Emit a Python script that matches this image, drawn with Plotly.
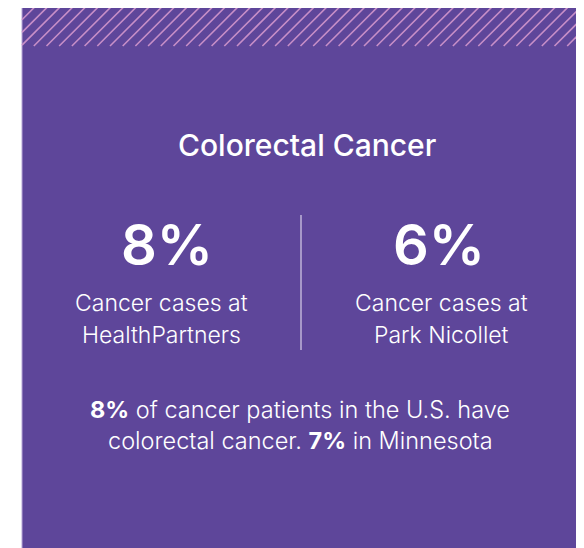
import plotly.graph_objects as go

W, H = 584, 548
OFF = 8  # browser body margin
title = "Colorectal Cancer"
stats = ["8%", "6%"]
stat_x = [167, 439]
label_lines = [["Cancer cases at", "HealthPartners"], ["Cancer cases at", "Park Nicollet"]]
label_x = [161, 441]
footer_lines = ["<b>8%</b> of cancer patients in the U.S. have",
                "colorectal cancer. <b>7%</b> in Minnesota"]

PURPLE = "#5E469A"
HATCH = "#C88FC8"
FONT = "Inter"

box = dict(x0=22, x1=580, y0=7, y1=560)
hatch_y0, hatch_y1 = 7, 46
spacing = 12.7

fig = go.Figure()

hx, hy = [], []
band = hatch_y1 - hatch_y0
x0 = box["x0"] - band
while x0 < box["x1"]:
    xa, ya = x0, hatch_y1
    xb, yb = x0 + band, hatch_y0
    if xa < box["x0"]:
        ya = hatch_y1 - (box["x0"] - xa)
        xa = box["x0"]
    if xb > box["x1"]:
        yb = hatch_y0 + (xb - box["x1"])
        xb = box["x1"]
    if xb > xa:
        hx += [xa, xb, None]
        hy += [ya, yb, None]
    x0 += spacing

fig.add_trace(go.Scatter(x=hx, y=hy, mode="lines",
                         line=dict(color=HATCH, width=1.6),
                         hoverinfo="skip", showlegend=False, cliponaxis=True))

fig.add_shape(type="rect", x0=box["x0"], x1=box["x1"], y0=box["y0"], y1=box["y1"],
              fillcolor=PURPLE, line=dict(color="#B7A6D6", width=1), layer="below")

fig.add_shape(type="line", x0=301, x1=301, y0=215, y1=350,
              line=dict(color="#D9D0EA", width=1.2))

fig.add_annotation(x=307, y=145, text=title, showarrow=False,
                   font=dict(family=FONT, size=30, color="white", weight=500))

for sx, s in zip(stat_x, stats):
    fig.add_annotation(x=sx, y=245, text=s, showarrow=False,
                       font=dict(family=FONT, size=56, color="white", weight=600))

for lx, lines in zip(label_x, label_lines):
    for i, ln in enumerate(lines):
        fig.add_annotation(x=lx, y=303 + 32 * i, text=ln, showarrow=False,
                           font=dict(family=FONT, size=23, color="white", weight=300))

for i, ln in enumerate(footer_lines):
    fig.add_annotation(x=300, y=409 + 31 * i, text=ln, showarrow=False,
                       font=dict(family=FONT, size=23.5, color="white", weight=300))

fig.update_layout(
    width=W - OFF, height=H - OFF,
    margin=dict(l=0, r=0, t=0, b=0),
    paper_bgcolor="white", plot_bgcolor="white",
    xaxis=dict(range=[OFF, W], visible=False, fixedrange=True),
    yaxis=dict(range=[H, OFF], visible=False, fixedrange=True),
    showlegend=False,
)

fig.write_html("out.html")
